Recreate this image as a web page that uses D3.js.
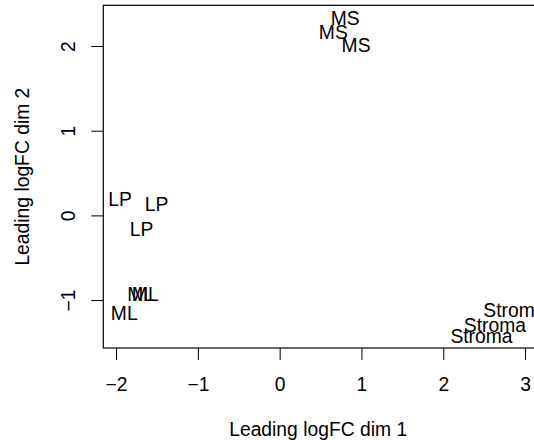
<!DOCTYPE html>
<html>
<head>
<meta charset="utf-8">
<script src="https://cdn.jsdelivr.net/npm/d3@7"></script>
<style>
  html, body { margin: 0; padding: 0; background: #fff; }
  svg { display: block; }
  text { font-family: "Liberation Sans", Arial, Helvetica, sans-serif; fill: #000; }
</style>
</head>
<body>
<svg id="chart" width="534" height="440"></svg>
<script>
// ---- data ----
const labels = ["LP", "LP", "LP", "ML", "ML", "ML", "MS", "MS", "MS", "Stroma", "Stroma", "Stroma"];
const dim1 = [-1.950, -1.504, -1.689, -1.699, -1.643, -1.900, 0.802, 0.656, 0.934, 2.870, 2.631, 2.467];
const dim2 = [0.189, 0.138, -0.161, -0.924, -0.924, -1.152, 2.328, 2.163, 2.017, -1.116, -1.297, -1.420];
const xTicks = [-2, -1, 0, 1, 2, 3];
const yTicks = [-1, 0, 1, 2];
const xTitle = "Leading logFC dim 1";
const yTitle = "Leading logFC dim 2";

// ---- layout ----
const W = 534, H = 440;
const plot = { left: 103.3, right: 534.8, top: 5.3, bottom: 348 };
const fontSize = 19.3;
const capHalf = fontSize * 0.716 / 2;

const x = d3.scaleLinear().domain([-2.156, 3.119]).range([plot.left, plot.right]);
const y = d3.scaleLinear().domain([-1.566, 2.481]).range([plot.bottom, plot.top]);

const svg = d3.select("#chart");

svg.append("defs").append("clipPath").attr("id", "plotclip")
  .append("rect")
  .attr("x", plot.left).attr("y", plot.top)
  .attr("width", plot.right - plot.left).attr("height", plot.bottom - plot.top);

// x axis
const xAxis = d3.axisBottom(x).tickValues(xTicks).tickSize(12).tickPadding(0)
  .tickFormat(d => d < 0 ? "\u2212" + Math.abs(d) : String(d));
const gx = svg.append("g").attr("transform", `translate(0,${plot.bottom})`).call(xAxis);
gx.select(".domain").remove();
gx.selectAll(".tick line").attr("stroke", "#000").attr("stroke-width", 1);
gx.selectAll(".tick text")
  .attr("font-size", fontSize)
  .attr("y", 391 - plot.bottom)
  .attr("dy", null)
  .attr("fill", "#000")
  .style("font-family", '"Liberation Sans", Arial, sans-serif');

// y axis
const yAxis = d3.axisLeft(y).tickValues(yTicks).tickSize(12).tickPadding(0)
  .tickFormat(d => d < 0 ? "\u2212" + Math.abs(d) : String(d));
const gy = svg.append("g").attr("transform", `translate(${plot.left},0)`).call(yAxis);
gy.select(".domain").remove();
gy.selectAll(".tick line").attr("stroke", "#000").attr("stroke-width", 1);
gy.selectAll(".tick text")
  .attr("font-size", fontSize)
  .attr("x", null).attr("dy", null)
  .attr("text-anchor", "middle")
  .attr("transform", `translate(${75 - plot.left},0) rotate(-90)`)
  .attr("fill", "#000")
  .style("font-family", '"Liberation Sans", Arial, sans-serif');

// box
svg.append("rect")
  .attr("x", plot.left).attr("y", plot.top)
  .attr("width", plot.right - plot.left).attr("height", plot.bottom - plot.top)
  .attr("fill", "none").attr("stroke", "#000").attr("stroke-width", 1.2);

// labels
svg.append("g").attr("clip-path", "url(#plotclip)")
  .selectAll("text").data(labels).join("text")
  .attr("x", (d, i) => x(dim1[i]))
  .attr("y", (d, i) => y(dim2[i]) + capHalf)
  .attr("text-anchor", "middle")
  .attr("font-size", fontSize)
  .text(d => d);

// titles
svg.append("text")
  .attr("x", (plot.left + Math.min(plot.right, 533)) / 2)
  .attr("y", 436)
  .attr("text-anchor", "middle")
  .attr("font-size", fontSize)
  .text(xTitle);

svg.append("text")
  .attr("transform", `translate(29.2,${(plot.top + plot.bottom) / 2}) rotate(-90)`)
  .attr("text-anchor", "middle")
  .attr("font-size", fontSize)
  .text(yTitle);
</script>
</body>
</html>
